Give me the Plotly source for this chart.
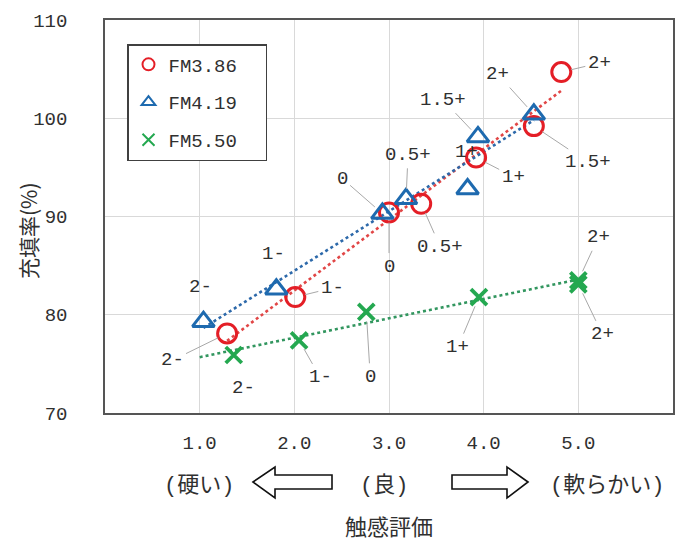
import numpy as np
import plotly.graph_objects as go

# ---------------- data ----------------
series_names = ["FM3.86", "FM4.19", "FM5.50"]

red_x = [1.29, 2.01, 3.00, 3.34, 3.92, 4.53, 4.82]
red_y = [78.1, 81.8, 90.4, 91.3, 96.0, 99.2, 104.7]
red_labels = ["2-", "1-", "0", "0.5+", "1+", "1.5+", "2+"]

blue_x = [1.04, 1.81, 2.93, 3.18, 3.83, 3.94, 4.53]
blue_y = [79.3, 82.6, 90.3, 91.8, 92.8, 98.1, 100.4]
blue_labels = ["2-", "1-", "0", "0.5+", "1+", "1.5+", "2+"]

green_x = [1.36, 2.05, 2.76, 3.95, 5.00, 5.00]
green_y = [75.9, 77.4, 80.3, 81.8, 83.5, 83.1]
green_labels = ["2-", "1-", "0", "1+", "2+", "2+"]

x_tick_vals = [1, 2, 3, 4, 5]
x_tick_text = ["1.0", "2.0", "3.0", "4.0", "5.0"]
y_tick_vals = [70, 80, 90, 100, 110]

x_title = "触感評価"
y_title = "充填率(%)"
scale_words = [("(", "硬い", ")"), ("(", "良", ")"), ("(", "軟らかい", ")")]

# ---------------- layout / style ----------------
OFF = 8                      # page body margin of the html page
W, H = 686 - OFF, 540 - OFF
L, R, T, B = 105, 673, 20, 413   # plot area in page pixels

def px(xp):
    return (xp - L) / (R - L)

def py(yp):
    return (B - yp) / (B - T)

red_c = "rgb(228,30,38)"
blue_c = "rgb(30,106,175)"
green_c = "rgb(36,168,80)"
red_line = "rgb(225,70,70)"
blue_line = "rgb(45,105,170)"
green_line = "rgb(50,150,95)"
lead_c = "#a8a8a8"
txt_c = "#303030"
num_font = "Liberation Mono"
jp_font = "Noto Sans CJK JP"

# label offsets (pixels) and whether a leader line is drawn
red_off = [(-55, 27, 1), (37, -9, 1), (0, 54, 1), (19, 43, 1), (37, 19, 1), (54, 36, 1), (38, -9, 1)]
blue_off = [(-3, -35, 0), (-3, -35, 0), (-40, -35, 1), (2, -44, 1), (-1, -37, 0), (-35, -37, 1), (-36, -40, 1)]
green_off = [(10, 33, 0), (21, 37, 1), (4, 65, 1), (-21, 50, 1), (20, -43, 1), (24, 50, 1)]

trend_x0 = {"green": 1.0}

fig = go.Figure()

def trend(xs, ys, color, x0=None):
    k, b = np.polyfit(xs, ys, 1)
    xa = min(xs) if x0 is None else x0
    xb = max(xs)
    xx = np.array([xa, xb])
    fig.add_trace(go.Scatter(x=xx, y=k * xx + b, mode="lines", showlegend=False,
                             hoverinfo="skip",
                             line=dict(color=color, width=2.6, dash="dot")))

trend(red_x, red_y, red_line)
trend(blue_x, blue_y, blue_line)
trend(green_x, green_y, green_line, trend_x0["green"])

pad = "\u00a0\u00a0"
fig.add_trace(go.Scatter(x=red_x, y=red_y, mode="markers", name=series_names[0] + pad,
                         legendgroup="a",
                         marker=dict(symbol="circle-open", size=19, color=red_c,
                                     line=dict(width=3, color=red_c))))
fig.add_trace(go.Scatter(x=blue_x, y=blue_y, mode="markers", name=series_names[1] + pad,
                         legendgroup="b",
                         marker=dict(symbol="triangle-up-open", size=19, color=blue_c,
                                     line=dict(width=3, color=blue_c))))
fig.add_trace(go.Scatter(x=green_x, y=green_y, mode="markers", name=series_names[2] + pad,
                         legendgroup="c",
                         marker=dict(symbol="x-thin-open", size=16, color=green_c,
                                     line=dict(width=3.8, color=green_c))))

annotations = []

def add_labels(xs, ys, labels, offs):
    for xv, yv, t, (dx, dy, lead) in zip(xs, ys, labels, offs):
        if lead:
            annotations.append(dict(x=xv, y=yv, xref="x", yref="y", text=t,
                                    showarrow=True, ax=dx, ay=dy, arrowhead=0,
                                    arrowwidth=1, arrowcolor=lead_c, standoff=10,
                                    startstandoff=1,
                                    font=dict(family=num_font, size=19, color=txt_c)))
        else:
            annotations.append(dict(x=xv, y=yv, xref="x", yref="y", text=t,
                                    showarrow=False, xshift=dx, yshift=-dy,
                                    xanchor="center", yanchor="middle",
                                    font=dict(family=num_font, size=19, color=txt_c)))

add_labels(red_x, red_y, red_labels, red_off)
add_labels(blue_x, blue_y, blue_labels, blue_off)
add_labels(green_x, green_y, green_labels, green_off)

# axis titles and scale words
annotations.append(dict(x=px(28), y=py(230), xref="paper", yref="paper", text=y_title,
                        textangle=-90, showarrow=False, xanchor="center", yanchor="middle",
                        font=dict(family=jp_font, size=21, color=txt_c)))
annotations.append(dict(x=px(389), y=py(525), xref="paper", yref="paper", text=x_title,
                        showarrow=False, xanchor="center", yanchor="middle",
                        font=dict(family=jp_font, size=22, color=txt_c)))
par = "<span style='font-family:Liberation Mono'>%s</span>"
for (o, w, c), xc in zip(scale_words, [199, 384, 607]):
    annotations.append(dict(x=px(xc), y=py(482), xref="paper", yref="paper",
                            text=(par % o) + w + (par % c),
                            showarrow=False, xanchor="center", yanchor="middle",
                            font=dict(family=jp_font, size=22, color=txt_c)))

# hollow arrows (decoration)
def path(points):
    return "M " + " L ".join(f"{px(a):.5f},{py(b):.5f}" for a, b in points) + " Z"

left_arrow = [(253, 482), (275, 467), (275, 475), (332, 475), (332, 489), (275, 489), (275, 498)]
right_arrow = [(528, 482), (507, 467), (507, 475), (452, 475), (452, 489), (507, 489), (507, 498)]
shapes = [dict(type="path", xref="paper", yref="paper", path=path(p),
               line=dict(color="#111111", width=1.6), fillcolor="white")
          for p in (left_arrow, right_arrow)]

fig.update_layout(
    width=W, height=H,
    margin=dict(l=L - OFF, r=W + OFF - R, t=T - OFF, b=H + OFF - B, autoexpand=False),
    paper_bgcolor="white", plot_bgcolor="white",
    annotations=annotations, shapes=shapes,
    showlegend=True,
    legend=dict(x=px(127), y=py(44), xanchor="left", yanchor="top",
                bgcolor="white", bordercolor="#404040", borderwidth=1.5,
                font=dict(family=num_font, size=19, color=txt_c),
                itemsizing="constant", tracegroupgap=10, traceorder="grouped"),
    xaxis=dict(range=[0, 6], tickvals=x_tick_vals, ticktext=x_tick_text,
               showgrid=True, gridcolor="#d9d9d9", gridwidth=1,
               showline=True, mirror=True, linecolor="#555555", linewidth=1.5,
               ticks="", zeroline=False, ticklabelstandoff=11,
               tickfont=dict(family=num_font, size=19, color=txt_c)),
    yaxis=dict(range=[70, 110], tickvals=y_tick_vals,
               showgrid=True, gridcolor="#d9d9d9", gridwidth=1,
               showline=True, mirror=True, linecolor="#555555", linewidth=1.5,
               ticks="", zeroline=False, ticklabelstandoff=32,
               tickfont=dict(family=num_font, size=19, color=txt_c)),
)

fig.write_html("out.html")
